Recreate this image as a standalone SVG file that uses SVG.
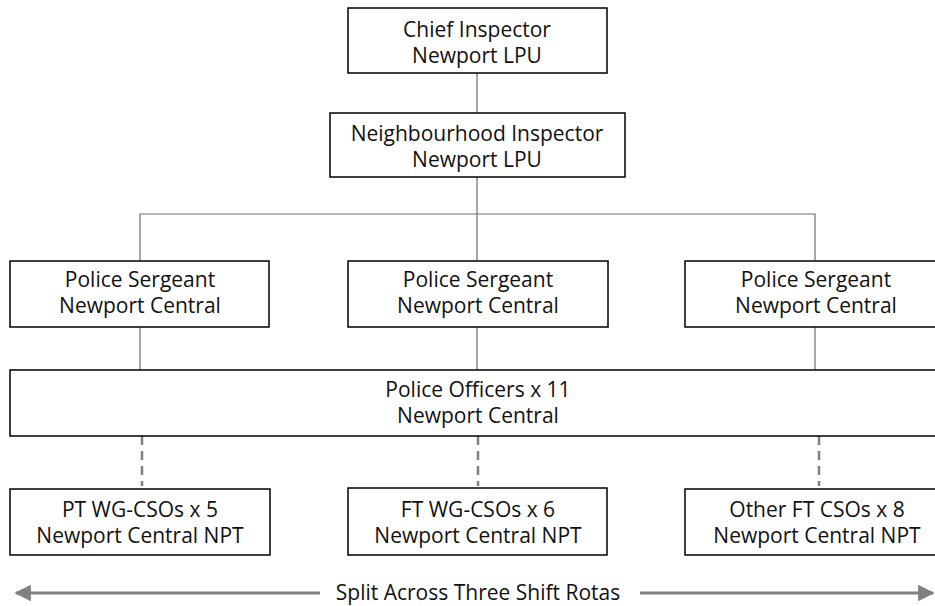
<svg xmlns="http://www.w3.org/2000/svg" width="935" height="606" viewBox="0 0 935 606">
<defs>
<style>
.box{fill:#fff;stroke:#000;stroke-width:1.5}
.t{font-family:"Open Sans","Noto Sans","DejaVu Sans",sans-serif;font-size:21px;fill:#111;text-anchor:middle}
.ln{stroke:#6e6e6e;stroke-width:1.2;fill:none}
.dash{stroke:#808080;stroke-width:2.5;stroke-dasharray:9 6;fill:none}
.arr{stroke:#808080;stroke-width:3;fill:none}
</style>
<marker id="ah" viewBox="0 0 10 10" refX="9" refY="5" markerWidth="5.5" markerHeight="5.5" orient="auto-start-reverse" markerUnits="strokeWidth">
<path d="M0,0 L10,5 L0,10 z" fill="#808080"/>
</marker>
</defs>
<rect width="935" height="606" fill="#fff"/>
<g id="connectors">
<line class="ln" x1="477" y1="73" x2="477" y2="113"/>
<line class="ln" x1="477" y1="177" x2="477" y2="261"/>
<polyline class="ln" points="140,261 140,214 815,214 815,261"/>
<line class="ln" x1="140" y1="327" x2="140" y2="370"/>
<line class="ln" x1="477" y1="327" x2="477" y2="370"/>
<line class="ln" x1="815" y1="327" x2="815" y2="372"/>
<line class="dash" x1="142" y1="436" x2="142" y2="486"/>
<line class="dash" x1="478" y1="436" x2="478" y2="486"/>
<line class="dash" x1="819" y1="436" x2="819" y2="486"/>
<line class="arr" x1="320" y1="593" x2="16" y2="593" marker-end="url(#ah)"/>
<line class="arr" x1="640" y1="593" x2="933" y2="593" marker-end="url(#ah)"/>
</g>
<g id="chief"><rect class="box" x="348" y="8" width="259" height="65"/><text class="t" x="477" y="37">Chief Inspector<tspan x="477" dy="26">Newport LPU</tspan></text></g>
<g id="neighbourhood"><rect class="box" x="330" y="113" width="295" height="64"/><text class="t" x="477" y="141">Neighbourhood Inspector<tspan x="477" dy="26">Newport LPU</tspan></text></g>
<g id="sgt1"><rect class="box" x="10" y="261" width="259" height="66"/><text class="t" x="140" y="287">Police Sergeant<tspan x="140" dy="26">Newport Central</tspan></text></g>
<g id="sgt2"><rect class="box" x="348" y="261" width="260" height="66"/><text class="t" x="478" y="287">Police Sergeant<tspan x="478" dy="26">Newport Central</tspan></text></g>
<g id="sgt3"><rect class="box" x="685" y="261" width="260" height="66"/><text class="t" x="816" y="287">Police Sergeant<tspan x="816" dy="26">Newport Central</tspan></text></g>
<g id="officers"><rect class="box" x="10" y="370" width="940" height="66"/><text class="t" x="478" y="397">Police Officers x 11<tspan x="478" dy="26">Newport Central</tspan></text></g>
<g id="pt"><rect class="box" x="10" y="489" width="260" height="66"/><text class="t" x="140" y="517">PT WG-CSOs x 5<tspan x="140" dy="26">Newport Central NPT</tspan></text></g>
<g id="ft"><rect class="box" x="348" y="488" width="259" height="67"/><text class="t" x="478" y="517">FT WG-CSOs x 6<tspan x="478" dy="26">Newport Central NPT</tspan></text></g>
<g id="other"><rect class="box" x="685" y="489" width="260" height="66"/><text class="t" x="817" y="517">Other FT CSOs x 8<tspan x="817" dy="26">Newport Central NPT</tspan></text></g>
<text class="t" x="478" y="600">Split Across Three Shift Rotas</text>
</svg>
